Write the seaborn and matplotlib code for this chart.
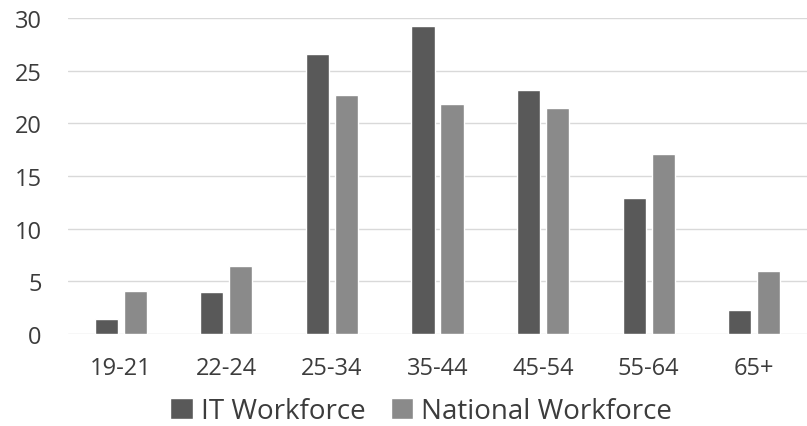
import matplotlib
matplotlib.use("Agg")
import matplotlib.pyplot as plt
import seaborn as sns
import pandas as pd

ages = ["19-21", "22-24", "25-34", "35-44", "45-54", "55-64", "65+"]
it_workforce = [1.4, 4.0, 26.6, 29.2, 23.2, 12.9, 2.25]
national_workforce = [4.05, 6.5, 22.7, 21.8, 21.5, 17.1, 6.0]
series = ["IT Workforce", "National Workforce"]
colors = ["#595959", "#8a8a8a"]
yticks = [0, 5, 10, 15, 20, 25, 30]

df = pd.DataFrame({
    "age": ages * 2,
    "value": it_workforce + national_workforce,
    "series": [series[0]] * len(ages) + [series[1]] * len(ages),
})

sns.set_style("white")
plt.rcParams["font.family"] = ["Open Sans", "DejaVu Sans"]
txt = "#3c3c3c"

fig = plt.figure(figsize=(8.07, 4.27), dpi=100)
ax = fig.add_axes([68 / 807, 1 - 335 / 427, 1 - 68 / 807, (335 - 19) / 427])

sns.barplot(data=df, x="age", y="value", hue="series", order=ages,
            hue_order=series, palette=colors, width=0.55, gap=0.2,
            saturation=1, ax=ax, legend=True)

ax.set_ylim(0, 30)
ax.set_xlim(-0.5, len(ages) - 0.5)
ax.set_yticks(yticks)
ax.yaxis.grid(True, color="#d9d9d9", lw=1)
ax.set_axisbelow(True)
for s in ax.spines.values():
    s.set_visible(False)
ax.tick_params(axis="both", length=0, labelsize=17, labelcolor=txt)
ax.tick_params(axis="x", pad=16)
ax.tick_params(axis="y", pad=19)
ax.set_xlabel("")
ax.set_ylabel("")

handles, labels = ax.get_legend_handles_labels()
ax.get_legend().remove()
fig.legend(handles, labels, loc="center", bbox_to_anchor=(0.522, 1 - 412 / 427),
           ncol=2, frameon=False, fontsize=20, labelcolor=txt,
           handlelength=0.8, handleheight=0.8, handletextpad=0.3,
           columnspacing=0.9, borderpad=0)

fig.savefig("out.png", dpi=100)
